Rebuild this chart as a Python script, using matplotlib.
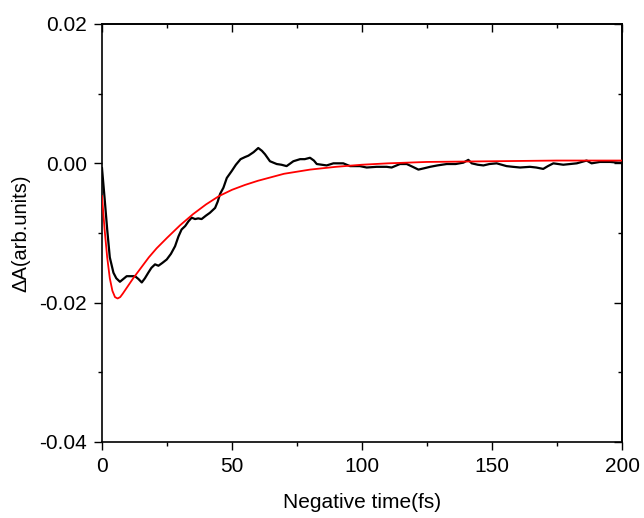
import matplotlib
matplotlib.use("Agg")
import matplotlib.pyplot as plt
from matplotlib.ticker import MultipleLocator, FuncFormatter

plt.rcParams['font.family'] = ['Liberation Sans', 'DejaVu Sans']

# Measured signal (black)
data_t = [0, 1, 2, 3, 4.4, 5.5, 6.9, 8.2, 9.5, 11, 12.7, 14, 15.3, 16.5, 17.8, 19,
          20.4, 21.7, 23.2, 24.9, 26.5, 28.1, 29.4, 30.6, 32, 33.3, 34.5, 35.8, 37,
          38.3, 40, 41.5, 43.5, 44.5, 45.4, 46.7, 48, 49.9, 51.5, 53.3, 55, 56.3,
          58.3, 60.1, 61.5, 62.7, 64.6, 67.2, 69, 71, 73.6, 76.2, 78, 80, 81.5,
          82.6, 84.5, 86.4, 89, 92.8, 95.4, 99.2, 101.8, 105.6, 109.5, 111.4,
          114.6, 117.2, 119.5, 121.7, 124, 126.2, 129, 132.6, 136, 139, 140.9,
          142.2, 144.5, 146.7, 149, 151.8, 155.6, 158, 160.8, 164.6, 167, 169.7,
          171.5, 173.6, 177.4, 180, 182.6, 186.4, 188.3, 191.5, 195.4, 198.6, 200]
data_dA = [-0.0007, -0.0050, -0.0095, -0.0135, -0.0157, -0.0165, -0.0170, -0.0166,
           -0.0162, -0.0162, -0.0162, -0.0166, -0.0171, -0.0165, -0.0157, -0.0150,
           -0.0145, -0.0147, -0.0143, -0.0138, -0.0130, -0.0119, -0.0105, -0.0095,
           -0.0090, -0.0083, -0.0078, -0.0080, -0.0079, -0.0080, -0.0075, -0.0071,
           -0.0064, -0.0055, -0.0044, -0.0035, -0.0021, -0.0011, -0.0002, 0.0006,
           0.0009, 0.0011, 0.0016, 0.0022, 0.0018, 0.0013, 0.0003, -0.0001,
           -0.0002, -0.0004, 0.0003, 0.0006, 0.0006, 0.0008, 0.0004, -0.0001,
           -0.0002, -0.0003, 0.0000, 0.0000, -0.0004, -0.0004, -0.0006, -0.0005,
           -0.0005, -0.0006, -0.0001, -0.0001, -0.0005, -0.0009, -0.0007, -0.0005,
           -0.0003, -0.0001, -0.0001, 0.0001, 0.0005, 0.0000, -0.0002, -0.0003,
           -0.0001, 0.0000, -0.0004, -0.0005, -0.0006, -0.0005, -0.0006, -0.0008,
           -0.0004, 0.0000, -0.0002, -0.0001, 0.0000, 0.0004, 0.0000, 0.0002,
           0.0002, 0.0001, 0.0001]

# Fit curve (red)
fit_t = [0, 1, 2, 3, 4, 5, 6, 7, 8, 10, 12, 15, 18, 21, 25, 30, 35, 40, 45, 50,
         55, 60, 70, 80, 90, 100, 110, 125, 150, 175, 200]
fit_dA = [-0.0047, -0.0095, -0.0135, -0.0165, -0.0183, -0.0192, -0.0194, -0.0192,
          -0.0187, -0.0176, -0.0165, -0.0150, -0.0135, -0.0122, -0.0107, -0.0089,
          -0.0073, -0.0059, -0.0047, -0.0038, -0.0031, -0.0025, -0.0015, -0.0009,
          -0.0005, -0.0002, 0.0000, 0.0002, 0.0003, 0.0004, 0.0004]

fig = plt.figure(figsize=(6.44, 5.18), dpi=100)
ax = fig.add_axes([102/644, 1 - 442/518, 520/644, 418/518])

ax.plot(data_t, data_dA, color='black', lw=1.6, zorder=3)
ax.plot(fit_t, fit_dA, color='red', lw=1.3, zorder=4)

ax.set_xlim(0, 200)
ax.set_ylim(-0.04, 0.02)

ax.xaxis.set_major_locator(MultipleLocator(50))
ax.xaxis.set_minor_locator(MultipleLocator(25))
ax.yaxis.set_major_locator(MultipleLocator(0.02))
ax.yaxis.set_minor_locator(MultipleLocator(0.01))
ax.yaxis.set_major_formatter(FuncFormatter(lambda v, p: f"{v:.2f}" if abs(v) > 1e-9 else "0.00"))

ax.tick_params(axis='both', which='major', direction='out', length=6, width=1,
               labelsize=15, pad=5)
ax.tick_params(axis='both', which='minor', direction='out', length=3, width=1)

for s in ax.spines.values():
    s.set_linewidth(1.2)

ax.set_xlabel('Negative time(fs)', fontsize=15, labelpad=12)
ax.set_ylabel('ΔA(arb.units)', fontsize=14.5, labelpad=6)

# inward ticks on top and right
axt = ax.secondary_xaxis('top')
axt.xaxis.set_major_locator(MultipleLocator(50))
axt.xaxis.set_minor_locator(MultipleLocator(25))
axt.tick_params(which='major', direction='in', length=6, width=1, labeltop=False)
axt.tick_params(which='minor', direction='in', length=3, width=1)
axr = ax.secondary_yaxis('right')
axr.yaxis.set_major_locator(MultipleLocator(0.02))
axr.yaxis.set_minor_locator(MultipleLocator(0.01))
axr.tick_params(which='major', direction='in', length=6, width=1, labelright=False)
axr.tick_params(which='minor', direction='in', length=3, width=1)
for sa in (axt, axr):
    for s in sa.spines.values():
        s.set_linewidth(1.2)

fig.savefig('out.png', dpi=100)
